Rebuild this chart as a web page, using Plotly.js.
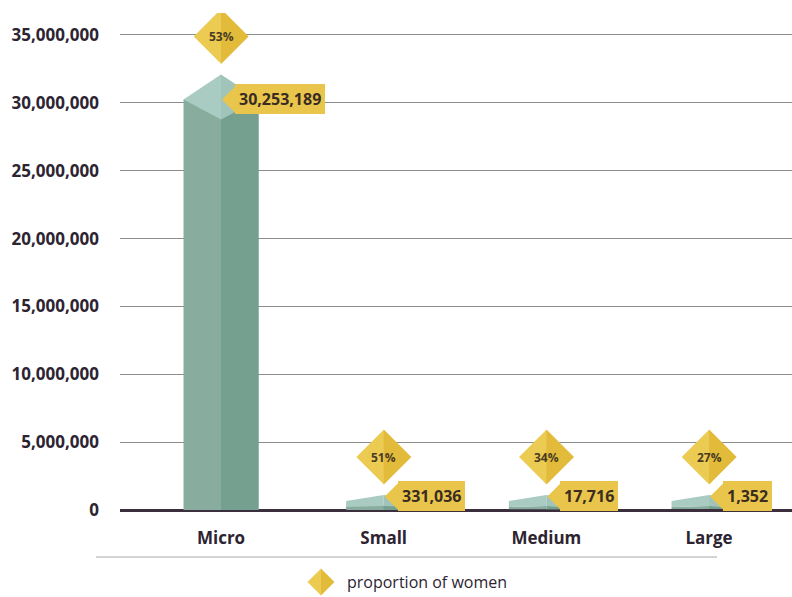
<!DOCTYPE html>
<html>
<head>
<meta charset="utf-8">
<script src="https://cdn.plot.ly/plotly-3.0.1.min.js"></script>
<style>html,body{margin:0;padding:0;background:#fff;}#chart{width:792px;height:597px;}</style>
</head>
<body>
<div id="chart"></div>
<script>
// ---- data ----
const categories = ['Micro', 'Small', 'Medium', 'Large'];
const enterprises = [30253189, 331036, 17716, 1352];
const womenShare = [53, 51, 34, 27];
const yTickValues = [0, 5000000, 10000000, 15000000, 20000000, 25000000, 30000000, 35000000];
const legendLabel = 'proportion of women';

// ---- style / layout constants ----
const W = 792, H = 597;
const M = {l: 120, r: 0, t: 13, b: 87};
const Y_MAX = 36620000;
const plotH = H - M.t - M.b;
const pxPerUnit = plotH / Y_MAX;
const X_RANGE = [-0.621, 3.51];
const BAR_W = 0.461;
const HALF_PX = 37.5;           // half bar width in pixels
const LEFT_FACE = '#88ac9e', RIGHT_FACE = '#75a090';
const CAP_L = '#a9cbc2', CAP_R = '#a0c4ba';
const GOLD = '#e9c64b', GOLD_L = '#eccb53', GOLD_D = '#e2bb3b';
const TXT = '#2d2432';
const LABEL_MIN = 1000000;      // minimum visible label height (data units)

const fmt = v => v.toLocaleString('en-US');

const shapes = [];
const annotations = [];
const diamondY = [];

categories.forEach((c, i) => {
  const v = enterprises[i];
  const hpx = v * pxPerUnit;
  let peakPx;
  if (hpx > 40) {
    const base = {type: 'path', xref: 'x', yref: 'y', xsizemode: 'pixel', ysizemode: 'pixel',
                  xanchor: c, yanchor: v, line: {width: 0}, layer: 'above'};
    shapes.push(Object.assign({}, base, {path: `M${-HALF_PX},0 L0,25 L0,-20 Z`, fillcolor: CAP_L}));
    shapes.push(Object.assign({}, base, {path: `M0,25 L${HALF_PX},0 L0,-20 Z`, fillcolor: CAP_R}));
    peakPx = hpx + 25;
  } else {
    const base = {type: 'path', xref: 'x', yref: 'y', xsizemode: 'pixel', ysizemode: 'pixel',
                  xanchor: c, yanchor: 0, line: {width: 0}, layer: 'above'};
    shapes.push(Object.assign({}, base, {path: `M${-HALF_PX},1 L${-HALF_PX},3 L0,4 L0,1 Z`, fillcolor: LEFT_FACE}));
    shapes.push(Object.assign({}, base, {path: `M0,1 L0,4 L${HALF_PX},3 L${HALF_PX},1 Z`, fillcolor: RIGHT_FACE}));
    shapes.push(Object.assign({}, base, {path: `M${-HALF_PX},3 L${-HALF_PX},9 L0,15 L0,4 Z`, fillcolor: CAP_L}));
    shapes.push(Object.assign({}, base, {path: `M0,15 L${HALF_PX},9 L${HALF_PX},3 L0,4 Z`, fillcolor: CAP_R}));
    peakPx = 15;
  }
  const dy = (peakPx + 38) / pxPerUnit;
  diamondY.push(dy);
  shapes.push({type: 'path', xref: 'x', yref: 'y', xsizemode: 'pixel', ysizemode: 'pixel',
               xanchor: c, yanchor: dy, line: {width: 0}, layer: 'above',
               path: 'M0,27.5 L27.5,0 L0,-27.5 Z', fillcolor: GOLD_D});
  annotations.push({x: c, y: dy, xref: 'x', yref: 'y', text: womenShare[i] + '%', showarrow: false,
                    font: {family: 'Open Sans', size: 12, color: '#4a3b22', weight: 700}});
  const ly = Math.max(v, LABEL_MIN);
  shapes.push({type: 'path', xref: 'x', yref: 'y', xsizemode: 'pixel', ysizemode: 'pixel',
               xanchor: c, yanchor: ly, line: {width: 0}, layer: 'above',
               path: 'M15,14 L1,0 L15,-14 Z', fillcolor: GOLD});
  annotations.push({x: c, y: ly, xref: 'x', yref: 'y', xanchor: 'left', yanchor: 'middle', xshift: 14,
                    text: fmt(v), showarrow: false, bgcolor: GOLD, borderpad: 4, borderwidth: 0,
                    font: {family: 'Open Sans', size: 16, color: '#3a2c22', weight: 700}});
});

// legend (manual) + separator
const toPX = px => (px - M.l) / (W - M.l - M.r);
const toPY = py => (H - M.b - py) / plotH;
shapes.push({type: 'line', xref: 'paper', yref: 'paper', x0: toPX(96), x1: toPX(717), y0: toPY(557), y1: toPY(557),
             line: {color: '#d4d4d4', width: 2}});
const lgBase = {type: 'path', xref: 'paper', yref: 'paper', xsizemode: 'pixel', ysizemode: 'pixel',
                xanchor: toPX(321), yanchor: toPY(582), line: {width: 0}};
shapes.push(Object.assign({}, lgBase, {path: 'M-13.5,0 L0,13.5 L0,-13.5 Z', fillcolor: GOLD_L}));
shapes.push(Object.assign({}, lgBase, {path: 'M0,13.5 L13.5,0 L0,-13.5 Z', fillcolor: GOLD_D}));
annotations.push({xref: 'paper', yref: 'paper', x: toPX(345), y: toPY(582), xanchor: 'left', yanchor: 'middle',
                  text: legendLabel, showarrow: false, font: {family: 'Open Sans', size: 16, color: TXT}});

const data = [
  {type: 'bar', x: categories, y: enterprises, width: BAR_W, marker: {color: LEFT_FACE, line: {width: 0}},
   hoverinfo: 'x+y', showlegend: false},
  {type: 'bar', x: categories, y: enterprises, width: BAR_W / 2, offset: 0, marker: {color: RIGHT_FACE, line: {width: 0}},
   hoverinfo: 'skip', showlegend: false},
  {type: 'scatter', mode: 'markers', x: categories, y: diamondY, name: legendLabel,
   customdata: womenShare, hovertemplate: '%{customdata}%<extra></extra>',
   marker: {symbol: 'diamond', size: 42, color: GOLD_L, line: {width: 0}}, showlegend: false}
];

const layout = {
  width: W, height: H,
  margin: M,
  paper_bgcolor: '#ffffff', plot_bgcolor: '#ffffff',
  barmode: 'overlay',
  showlegend: false,
  font: {family: 'Open Sans', color: TXT},
  xaxis: {type: 'category', range: X_RANGE, showgrid: false, showline: false, zeroline: false, ticks: '',
          ticklabelstandoff: 16,
          tickfont: {family: 'Open Sans', size: 17, color: TXT, weight: 700}},
  yaxis: {range: [0, Y_MAX], tickvals: yTickValues, tickformat: ',d', showline: false, ticks: '',
          gridcolor: '#8c8c8c', gridwidth: 1, zeroline: true, zerolinecolor: '#3b2f3d', zerolinewidth: 3,
          ticklabelstandoff: 20,
          tickfont: {family: 'Open Sans', size: 17, color: TXT, weight: 700}},
  shapes: shapes,
  annotations: annotations
};

Plotly.newPlot('chart', data, layout, {displayModeBar: false, staticPlot: true});
</script>
</body>
</html>
